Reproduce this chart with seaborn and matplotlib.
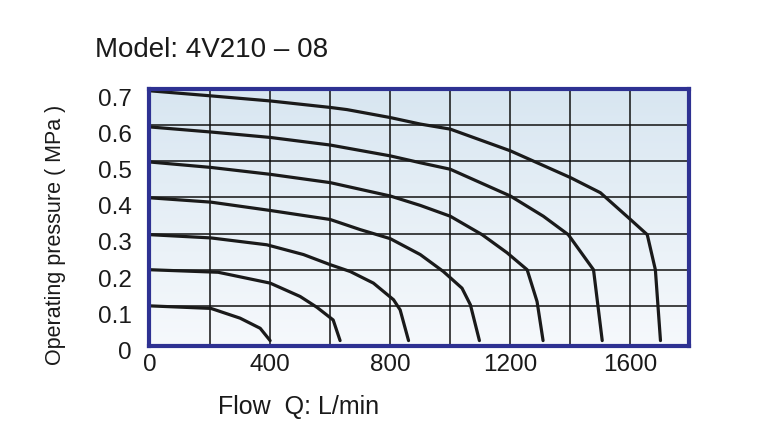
import numpy as np
import pandas as pd
import seaborn as sns
import matplotlib
matplotlib.use("Agg")
import matplotlib.pyplot as plt
import matplotlib.transforms as mtrans

# curve data, flow (L/min) vs pressure (MPa)
flow_07 = [0, 203, 400, 600, 656, 800, 900, 1000, 1200, 1400, 1500, 1600, 1656, 1683, 1700]
pres_07 = [0.695, 0.681, 0.667, 0.649, 0.643, 0.621, 0.603, 0.589, 0.529, 0.455, 0.413, 0.339, 0.297, 0.200, 0.004]
flow_06 = [0, 203, 400, 600, 800, 900, 1000, 1200, 1310, 1393, 1477, 1506]
pres_06 = [0.595, 0.581, 0.566, 0.545, 0.515, 0.496, 0.478, 0.404, 0.348, 0.297, 0.200, 0.004]
flow_05 = [0, 203, 400, 600, 800, 900, 1000, 1106, 1189, 1256, 1289, 1309]
pres_05 = [0.498, 0.483, 0.464, 0.441, 0.404, 0.378, 0.348, 0.297, 0.247, 0.200, 0.112, 0.004]
flow_04 = [0, 203, 400, 600, 700, 800, 900, 977, 1039, 1067, 1097]
pres_04 = [0.399, 0.387, 0.364, 0.339, 0.311, 0.286, 0.242, 0.195, 0.149, 0.103, 0.004]
flow_03 = [0, 203, 389, 511, 600, 667, 744, 811, 833, 861]
pres_03 = [0.297, 0.288, 0.269, 0.242, 0.214, 0.195, 0.163, 0.117, 0.089, 0.004]
flow_02 = [0, 227, 400, 500, 556, 610, 633]
pres_02 = [0.200, 0.193, 0.163, 0.126, 0.096, 0.061, 0.004]
flow_01 = [0, 203, 300, 367, 400]
pres_01 = [0.100, 0.093, 0.066, 0.038, 0.004]

x_ticks = [0, 400, 800, 1200, 1600]
y_ticks = [0, 0.1, 0.2, 0.3, 0.4, 0.5, 0.6, 0.7]
y_tick_labels = ["0", "0.1", "0.2", "0.3", "0.4", "0.5", "0.6", "0.7"]

curves = {"0.7": (flow_07, pres_07), "0.6": (flow_06, pres_06), "0.5": (flow_05, pres_05),
          "0.4": (flow_04, pres_04), "0.3": (flow_03, pres_03), "0.2": (flow_02, pres_02),
          "0.1": (flow_01, pres_01)}
rows = []
for name, (fx, py) in curves.items():
    for a, b in zip(fx, py):
        rows.append({"curve": name, "flow": a, "pressure": b})
df = pd.DataFrame(rows)

sns.set_theme(style="white")
plt.rcParams['font.family'] = ['Liberation Sans Narrow', 'Liberation Sans', 'DejaVu Sans']

fig = plt.figure(figsize=(7.66, 4.47), dpi=100)
ax = fig.add_axes([148.5 / 766, 1 - 346 / 447, (689 - 148.5) / 766, (346 - 89) / 447])

xmin, xmax, ymin, ymax = -5, 1795, -0.011, 0.7
# light blue gradient background
grad = np.linspace(0, 1, 256).reshape(-1, 1)
cmap = matplotlib.colors.LinearSegmentedColormap.from_list("bg", ["#f6f9fc", "#d8e6f1"])
ax.imshow(grad, extent=[xmin, xmax, ymin, ymax], origin="lower", aspect="auto", cmap=cmap, zorder=0)

for v in range(200, 1800, 200):
    ax.axvline(v, color="#111111", lw=1.1, zorder=1)
for h in y_ticks[1:-1]:
    ax.axhline(h, color="#111111", lw=1.1, zorder=1)

sns.lineplot(data=df, x="flow", y="pressure", units="curve", estimator=None, sort=False,
             color="#1a1a1a", lw=2.3, ax=ax, zorder=3)

ax.set_xlim(xmin, xmax)
ax.set_ylim(ymin, ymax)
ax.set_xticks(x_ticks)
ax.set_xticklabels([str(t) for t in x_ticks], fontsize=17.5, color="#1a1a1a")
ax.set_yticks(y_ticks)
ax.set_yticklabels(y_tick_labels, fontsize=17.5, color="#1a1a1a")
ax.tick_params(axis="x", length=0, pad=6)
ax.tick_params(axis="y", length=0, pad=12)
offset = mtrans.ScaledTranslation(0, -6 / 72, fig.dpi_scale_trans)
for lbl in ax.get_yticklabels():
    lbl.set_transform(lbl.get_transform() + offset)
ax.set_xlabel("")
ax.set_ylabel("")
for sp in ax.spines.values():
    sp.set_color("#2e3192")
    sp.set_linewidth(3)
    sp.set_zorder(5)

fig.text(95 / 766, 1 - 50 / 447, "Model: 4V210 \u2013 08", fontsize=20, ha="left", va="center", color="#1a1a1a")
fig.text(218 / 766, 1 - 407 / 447, "Flow  Q: L/min", fontsize=18, ha="left", va="center", color="#1a1a1a")
fig.text(56 / 766, 1 - 235 / 447, "Operating pressure ( MPa )", fontsize=15.5, rotation=90,
         ha="center", va="center", color="#1a1a1a")

fig.savefig("out.png", dpi=100)
